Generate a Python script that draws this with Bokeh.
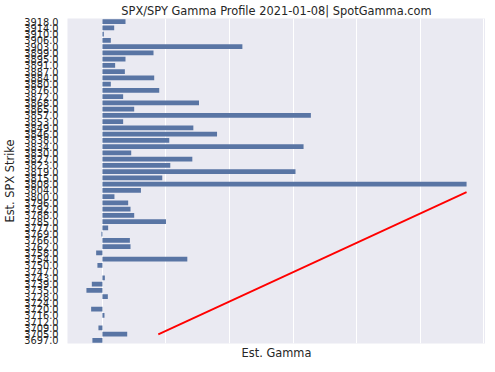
from bokeh.plotting import figure
from bokeh.models import Range1d, FixedTicker
from bokeh.embed import file_html
from bokeh.resources import INLINE

strikes = ["3918.0", "3914.0", "3910.0", "3906.0", "3903.0", "3899.0", "3895.0", "3891.0",
           "3887.0", "3884.0", "3880.0", "3876.0", "3872.0", "3868.0", "3865.0", "3857.0",
           "3853.0", "3849.0", "3846.0", "3838.0", "3834.0", "3830.0", "3827.0", "3823.0",
           "3819.0", "3815.0", "3808.0", "3804.0", "3800.0", "3796.0", "3792.0", "3788.0",
           "3785.0", "3777.0", "3769.0", "3766.0", "3762.0", "3758.0", "3754.0",
           "3750.0", "3747.0", "3743.0", "3739.0", "3735.0", "3728.0", "3724.0", "3720.0",
           "3716.0", "3712.0", "3709.0", "3705.0", "3697.0"]

gamma = [0.363, 0.185, 0.022, 0.132, 2.203, 0.804, 0.363, 0.200,
         0.353, 0.815, 0.132, 0.894, 0.326, 1.520, 0.500, 3.281,
         0.326, 1.431, 1.804, 1.052, 3.166, 0.453, 1.415, 1.068,
         3.039, 0.942, 5.732, 0.606, 0.189, 0.405, 0.442, 0.500,
         1.000, 0.090, -0.016, 0.432, 0.442, -0.099, 1.336, -0.079,
         0.0, 0.038, -0.167, -0.252, 0.085, 0.0, -0.178, 0.032,
         0.0, -0.063, 0.390, -0.158]

red_x = [0.879, 5.732]
red_y = [50.05, 27.27]

grid_ticks = [0, 1, 2, 3, 4, 5, 6]

rows = list(range(len(strikes)))

p = figure(frame_width=418, frame_height=325, output_backend="svg", toolbar_location=None,
           x_range=Range1d(-0.55, 6.03), y_range=Range1d(len(strikes) - 0.5, -0.5),
           min_border_left=61, min_border_right=0, min_border_top=16, min_border_bottom=0)

p.hbar(y=rows, left=0, right=gamma, height=0.75, color="#5975a4", line_color=None)
p.line(red_x, red_y, line_color="red", line_width=1.8)

p.background_fill_color = "#eaeaf2"
p.border_fill_color = "white"
p.outline_line_color = None

p.title.text = "SPX/SPY Gamma Profile 2021-01-08| SpotGamma.com"
p.title.align = "center"
p.title.text_font = "DejaVu Sans"
p.title.text_font_size = "11.4px"
p.title.text_font_style = "normal"
p.title.text_color = "#262626"
p.title.standoff = 2

p.xaxis.ticker = FixedTicker(ticks=[])
p.xaxis.major_tick_out = 0
p.xaxis.major_tick_in = 0
p.xaxis.minor_tick_line_color = None
p.xaxis.axis_line_color = None
p.xaxis.major_label_standoff = 0
p.xaxis.axis_label = "Est. Gamma"
p.xaxis.axis_label_text_font = "DejaVu Sans"
p.xaxis.axis_label_text_font_size = "11.4px"
p.xaxis.axis_label_text_font_style = "normal"
p.xaxis.axis_label_text_color = "#262626"
p.xaxis.axis_label_standoff = 2

p.yaxis.ticker = FixedTicker(ticks=rows)
p.yaxis.major_label_overrides = {i: s for i, s in enumerate(strikes)}
p.yaxis.major_label_text_font = "DejaVu Sans"
p.yaxis.major_label_text_font_size = "9.8px"
p.yaxis.major_label_text_color = "#262626"
p.yaxis.major_tick_out = 0
p.yaxis.major_tick_in = 0
p.yaxis.minor_tick_line_color = None
p.yaxis.axis_line_color = None
p.yaxis.major_label_standoff = 9
p.yaxis.axis_label = "Est. SPX Strike"
p.yaxis.axis_label_text_font = "DejaVu Sans"
p.yaxis.axis_label_text_font_size = "11.4px"
p.yaxis.axis_label_text_font_style = "normal"
p.yaxis.axis_label_text_color = "#262626"
p.yaxis.axis_label_standoff = 4

p.xgrid.ticker = FixedTicker(ticks=grid_ticks)
p.xgrid.grid_line_color = "white"
p.xgrid.grid_line_width = 1
p.ygrid.grid_line_color = None

open("out.html", "w").write(file_html(p, INLINE))
